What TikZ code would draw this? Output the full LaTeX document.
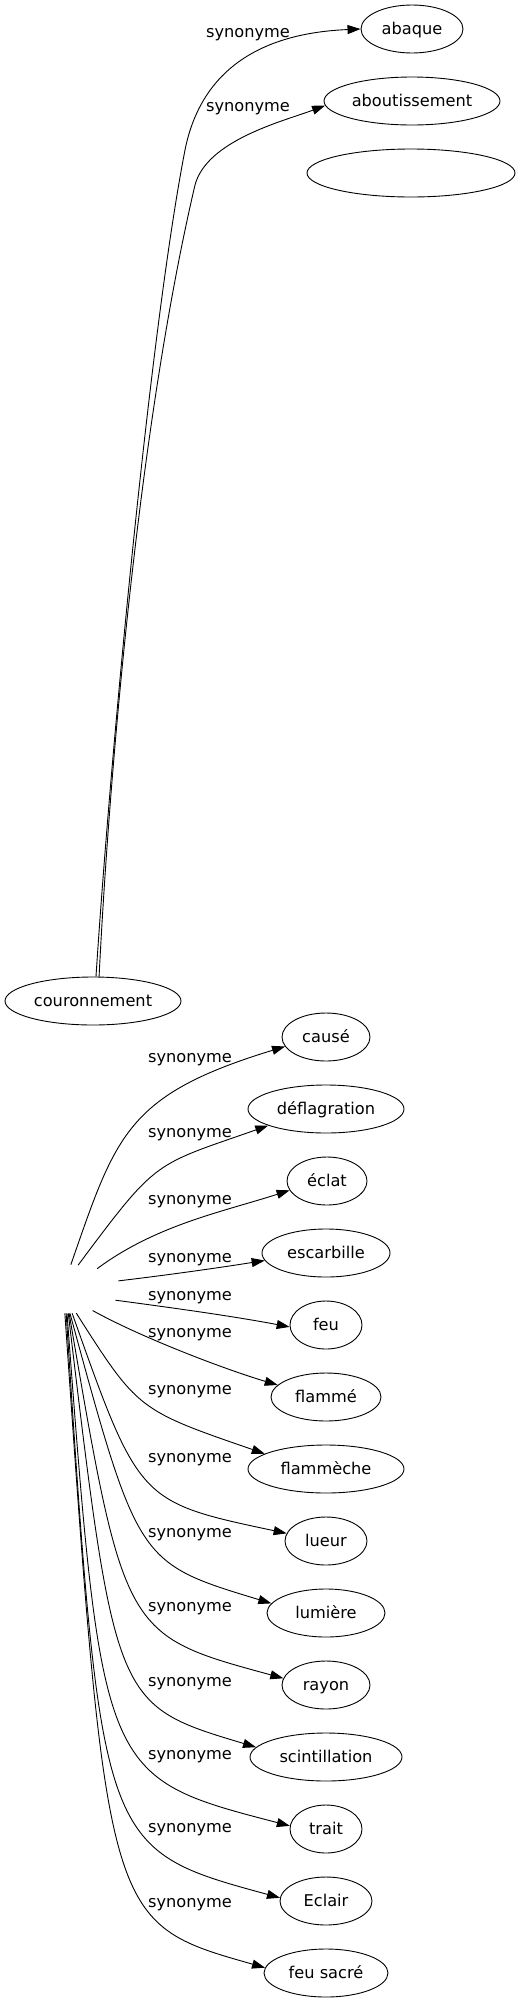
\documentclass[tikz,border=0pt]{standalone}
\usepackage{fontspec}
\setmainfont{DejaVu Sans}
\usetikzlibrary{shapes.geometric,arrows.meta}
\begin{document}
\begin{tikzpicture}[x=1pt,y=-1pt,
  word/.style={ellipse, draw, line width=0.9pt, minimum height=48pt, inner sep=0pt,
    font=\fontsize{16.2}{19}\selectfont, text height=15pt, text depth=5pt},
  lab/.style={inner sep=0pt, font=\fontsize{16.2}{19}\selectfont, text height=15pt, text depth=5pt},
  syn/.style={line width=0.9pt, -{Triangle[length=13pt,width=9pt]}}]
\fill[white] (0,0) rectangle (522,2003);
\path[use as bounding box] (0,0) rectangle (522,2003);
% nodes
\node[word, minimum width=176pt] (couronnement) at (93,1001) {couronnement};
\node[word, minimum width=102pt] (abaque) at (412,29) {abaque};
\node[word, minimum width=176pt] (aboutissement) at (412,101) {aboutissement};
\node[word, minimum width=208pt] (vide) at (411,173) {};
\node[word, draw=none, minimum width=108pt] (source) at (67,1289) {};
\node[word, minimum width=88pt] (cause) at (326,1037) {causé};
\node[word, minimum width=156pt] (deflagration) at (326,1109) {déflagration};
\node[word, minimum width=80pt] (eclat) at (327,1181) {éclat};
\node[word, minimum width=128pt] (escarbille) at (326,1253) {escarbille};
\node[word, minimum width=72pt] (feu) at (326,1325) {feu};
\node[word, minimum width=110pt] (flamme) at (326,1397) {flammé};
\node[word, minimum width=156pt] (flammeche) at (326,1469) {flammèche};
\node[word, minimum width=82pt] (lueur) at (326,1541) {lueur};
\node[word, minimum width=118pt] (lumiere) at (326,1613) {lumière};
\node[word, minimum width=88pt] (rayon) at (326,1685) {rayon};
\node[word, minimum width=152pt] (scintillation) at (326,1757) {scintillation};
\node[word, minimum width=72pt] (trait) at (326,1829) {trait};
\node[word, minimum width=92pt] (eclair) at (326,1901) {Eclair};
\node[word, minimum width=124pt] (feusacre) at (326,1973) {feu sacré};
% labels
\node[lab] (s1) at (248,32) {synonyme};
\node[lab] (s2) at (248,106) {synonyme};
\node[lab] (s3) at (190,1057) {synonyme};
\node[lab] (s4) at (190,1132) {synonyme};
\node[lab] (s5) at (190,1199) {synonyme};
\node[lab] (s6) at (190,1257) {synonyme};
\node[lab] (s7) at (190,1295) {synonyme};
\node[lab] (s8) at (190,1332) {synonyme};
\node[lab] (s9) at (190,1389) {synonyme};
\node[lab] (s10) at (190,1457) {synonyme};
\node[lab] (s11) at (190,1532) {synonyme};
\node[lab] (s12) at (190,1606) {synonyme};
\node[lab] (s13) at (190,1681) {synonyme};
\node[lab] (s14) at (190,1754) {synonyme};
\node[lab] (s15) at (190,1827) {synonyme};
\node[lab] (s16) at (190,1902) {synonyme};
% edges
\draw[syn] (couronnement.83) .. controls (110,760) and (150,330) .. (185,150)
  .. controls (205,50) and (290,32) .. (abaque.west);
\draw[syn] (couronnement.76) .. controls (110,760) and (140,420) .. (195,185)
  .. controls (207,140) and (284,121) .. (aboutissement.183);
\draw[syn] (source.81) .. controls (116,1135) and (126,1095) .. (cause.193);
\draw[syn] (source.65) .. controls (158,1158) and (153,1166) .. (deflagration.196);
\draw[syn] (source.34) .. controls (156,1225) and (222,1212) .. (eclat.194);
\draw[syn] (source.9) .. controls (168,1275) and (217,1268) .. (escarbille.187);
\draw[syn] (source.-13) .. controls (174,1308) and (232,1316) .. (feu.183);
\draw[syn] (source.-40) .. controls (144,1339) and (230,1371) .. (flamme.166.5);
\draw[syn] (source.-69) .. controls (138,1410) .. (flammeche.166);
\draw[syn] (source.-78) .. controls (139,1502) .. (lueur.169);
\draw[syn] (source.-83) .. controls (138,1563) .. (lumiere.170);
\draw[syn] (source.-85) .. controls (124,1635) .. (rayon.171);
\draw[syn] (source.-87) .. controls (115,1705) .. (scintillation.172);
\draw[syn] (source.-90) .. controls (102,1777) .. (trait.175);
\draw[syn] (source.-92) .. controls (101,1849) .. (eclair.176);
\draw[syn] (source.-95) .. controls (107,1923) .. (feusacre.175);
\end{tikzpicture}
\end{document}
